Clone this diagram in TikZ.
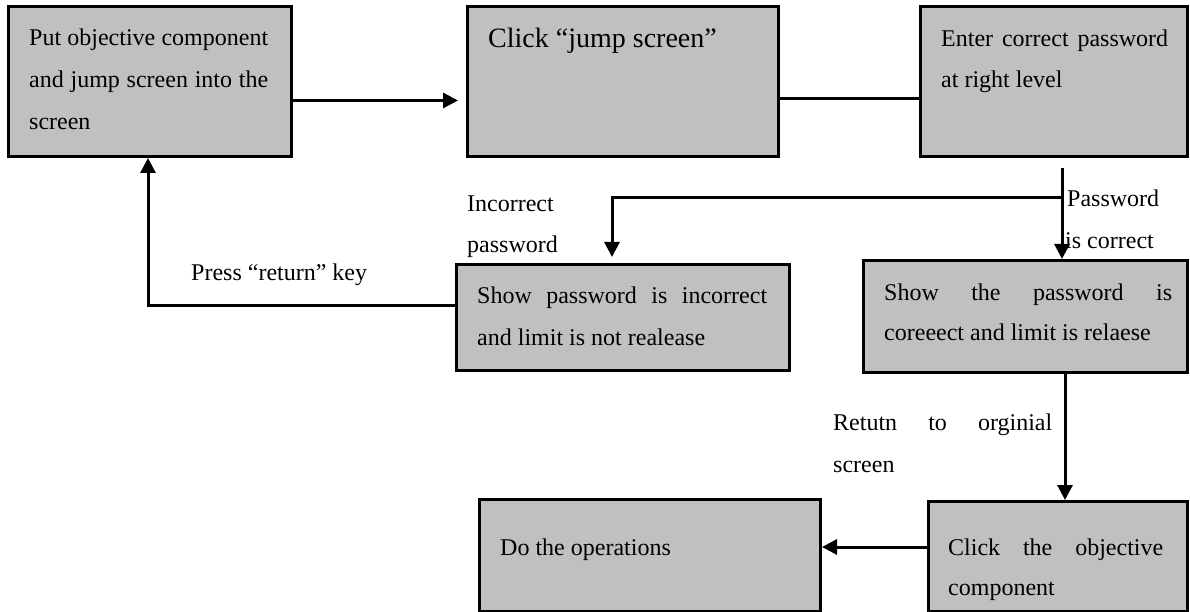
\documentclass[tikz,border=0pt]{standalone}
\usepackage{fontspec}
\setmainfont{Liberation Serif}
\usetikzlibrary{arrows.meta}
\definecolor{boxgray}{RGB}{192,192,192}
\begin{document}
\begin{tikzpicture}[x=1pt,y=-1pt,
  box/.style={draw=black, line width=3pt, fill=boxgray, inner sep=0pt, anchor=north west},
  txt/.style={anchor=base west, inner sep=0pt, font=\fontsize{24}{28}\selectfont},
  bigtxt/.style={anchor=base west, inner sep=0pt, font=\fontsize{28}{32}\selectfont},
  conn/.style={line width=3pt},
  arr/.style={line width=3pt, -{Triangle[length=15pt,width=15pt]}}]
\useasboundingbox (0,0) rectangle (1190,612);

% boxes
\node[box, minimum width=283pt, minimum height=150pt] (b1) at (7,5) {};
\node[box, minimum width=311pt, minimum height=150pt] (b2) at (466,5) {};
\node[box, minimum width=267pt, minimum height=150pt] (b3) at (919,5) {};
\node[box, minimum width=333pt, minimum height=106pt] (b4) at (455,263) {};
\node[box, minimum width=324pt, minimum height=112pt] (b5) at (862,259) {};
\node[box, minimum width=341pt, minimum height=112pt] (b6) at (478,498) {};
\node[box, minimum width=259pt, minimum height=110pt] (b7) at (927,500) {};

% box texts
\node[txt] (t1a) at (29,46) {\makebox[239pt][s]{Put objective component}};
\node[txt] (t1b) at (29,88) {\makebox[239pt][s]{and jump screen into the}};
\node[txt] (t1c) at (29,130) {screen};
\node[bigtxt] (t2) at (488,48) {Click “jump screen”};
\node[txt] (t3a) at (941,47) {\makebox[227pt][s]{Enter correct password}};
\node[txt] (t3b) at (941,88) {at right level};
\node[txt] (t4a) at (477,303) {\makebox[290pt][s]{Show password is incorrect}};
\node[txt] (t4b) at (477,345) {and limit is not realease};
\node[txt] (t5a) at (884,300) {\makebox[288pt][s]{Show the password is}};
\node[txt] (t5b) at (884,340) {coreeect and limit is relaese};
\node[txt] (t6) at (500,555) {Do the operations};
\node[txt] (t7a) at (948,555) {\makebox[215pt][s]{Click the objective}};
\node[txt] (t7b) at (948,595) {component};

% connector labels
\node[txt] (l1a) at (467,212) {Incorrect};
\node[txt] (l1b) at (467,252) {password};
\node[txt] (l2a) at (1067,207) {Password};
\node[txt] (l2b) at (1065,248) {is correct};
\node[txt] (l3) at (191,280) {Press “return” key};
\node[txt] (l4a) at (833,430) {\makebox[219pt][s]{Retutn to orginial}};
\node[txt] (l4b) at (833,472) {screen};

% helper coordinates
\coordinate (c1) at (1062,198);
\coordinate (c2) at (612,198);
\coordinate (c3) at (148,305);
\coordinate (c4) at (1065,0);
\coordinate (c5) at (0,547);

% connectors
\draw[arr, shorten >=8pt] ([yshift=-19pt]b1.east) -- ([yshift=-19pt]b2.west);
\draw[conn] ([yshift=-17pt]b2.east) -- ([yshift=-17pt]b3.west);
\draw[arr, shorten <=10pt] (b3.south -| c1) -- (b5.north -| c1);
\draw[arr, shorten >=6pt] (c1) -- (c2) -- (b4.north -| c2);
\draw[arr] (b4.west |- c3) -- (c3) -- (b1.south -| c3);
\draw[arr] (b5.south -| c4) -- (b7.north -| c4);
\draw[arr] (b7.west |- c5) -- (b6.east |- c5);
\end{tikzpicture}
\end{document}
